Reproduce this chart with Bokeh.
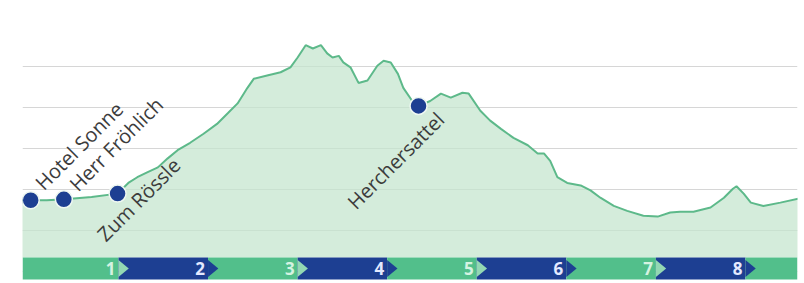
import math
from bokeh.plotting import figure
from bokeh.models import Range1d, FixedTicker, ColumnDataSource
from bokeh.core.properties import value
from bokeh.embed import file_html
from bokeh.resources import INLINE

# ---------------- data ----------------
profile_km = [-0.08, 0.00, 0.20, 0.40, 0.70, 0.99, 1.11, 1.21, 1.32, 1.44, 1.55, 1.66, 1.80, 1.95,
              2.10, 2.22, 2.33, 2.44, 2.51, 2.66, 2.81, 2.92, 3.00, 3.09, 3.17, 3.26, 3.33, 3.39,
              3.46, 3.51, 3.59, 3.68, 3.78, 3.89, 3.96, 4.04, 4.12, 4.18, 4.28, 4.35, 4.48, 4.60,
              4.71, 4.84, 4.91, 5.04, 5.15, 5.27, 5.41, 5.57, 5.68, 5.75, 5.82, 5.90, 6.01, 6.16,
              6.27, 6.38, 6.53, 6.68, 6.86, 7.02, 7.16, 7.27, 7.42, 7.61, 7.76, 7.86, 7.90, 7.98,
              8.06, 8.20, 8.39, 8.60]
profile_elev = [637, 637, 637, 638, 641, 645, 658, 665, 671, 677, 688, 698, 707, 718,
                730, 743, 755, 774, 785, 789, 793, 799, 811, 826, 822, 826, 816, 811,
                813, 805, 799, 780, 783, 801, 807, 805, 791, 774, 758, 752, 758, 767,
                762, 768, 767, 746, 734, 724, 713, 704, 694, 694, 685, 665, 658, 655,
                649, 640, 630, 624, 618, 617, 622, 623, 623, 628, 640, 651, 654, 645,
                634, 630, 634, 639]

poi_names = ["Hotel Sonne", "Herr Fröhlich", "Zum Rössle", "Herchersattel"]
poi_km = [0.02, 0.39, 0.99, 4.35]
poi_elev = [637, 638, 645, 752]

km_marks = [1, 2, 3, 4, 5, 6, 7, 8]
km_labels = ["1", "2", "3", "4", "5", "6", "7", "8"]

grid_elev = [550, 600, 650, 700, 750, 800]

# ---------------- layout / style ----------------
X0, X1 = -0.0715, 8.581
Y0, Y1 = 535.4, 880.5
BAND_TOP = 567.1
BAND_BOT = 540.2
GREEN = "#52bf8b"
BLUE = "#1d3f92"
TIP_GREEN = "#93d8b3"

p = figure(width=804, height=283, output_backend="svg", toolbar_location=None,
           x_range=Range1d(X0, X1), y_range=Range1d(Y0, Y1),
           x_axis_location=None, y_axis_location=None,
           min_border_left=22, min_border_right=7, min_border_top=0, min_border_bottom=0)
p.outline_line_color = None
p.background_fill_color = "white"
p.xgrid.visible = False
p.ygrid.ticker = FixedTicker(ticks=grid_elev)
p.ygrid.grid_line_color = "#d6d6d6"
p.ygrid.grid_line_width = 1

# area + line
p.varea(x=profile_km, y1=BAND_TOP, y2=profile_elev, fill_color="#c3e5cd", fill_alpha=0.72)
p.line(profile_km, profile_elev, line_color="#5db98a", line_width=2)

# km band
seg_left = [X0] + km_marks
seg_right = km_marks + [X1]
seg_color = [GREEN if i % 2 == 0 else BLUE for i in range(len(seg_left))]
p.quad(left=seg_left, right=seg_right, bottom=BAND_BOT, top=BAND_TOP,
       fill_color=seg_color, line_color=None)

tip_w = 0.115
mid = (BAND_TOP + BAND_BOT) / 2
tri_xs = [[k, k, k + tip_w] for k in km_marks]
tri_ys = [[BAND_TOP - 3, BAND_BOT + 3, mid] for k in km_marks]
tri_col = [TIP_GREEN if k % 2 == 1 else BLUE for k in km_marks]
p.patches(tri_xs, tri_ys, fill_color=tri_col, line_color=None)

lab_col = ["#d6f3e2" if k % 2 == 1 else "#e4e9ff" for k in km_marks]
p.text(x=km_marks, y=[mid] * len(km_marks), text=km_labels,
       text_color=lab_col, text_align="right", text_baseline="middle",
       x_offset=-3, text_font=value("Open Sans"), text_font_size="17px",
       text_font_style="bold")

# points of interest
p.scatter(poi_km, poi_elev, size=17, fill_color="#1d3f92", line_color="#eef7f1",
          line_width=1.5)

poi_src = ColumnDataSource(dict(
    x=poi_km, y=poi_elev, text=poi_names,
    align=["left", "left", "right", "right"],
    xo=[8, 9, 59, 22], yo=[-14, -12, -32, 10],
))
p.text(x="x", y="y", text="text", source=poi_src, angle=math.pi / 4,
       text_align="align", text_baseline="middle", x_offset="xo", y_offset="yo",
       text_color="#3c3c3c", text_font=value("Open Sans"), text_font_size="20px")

open("out.html", "w").write(file_html(p, INLINE))
